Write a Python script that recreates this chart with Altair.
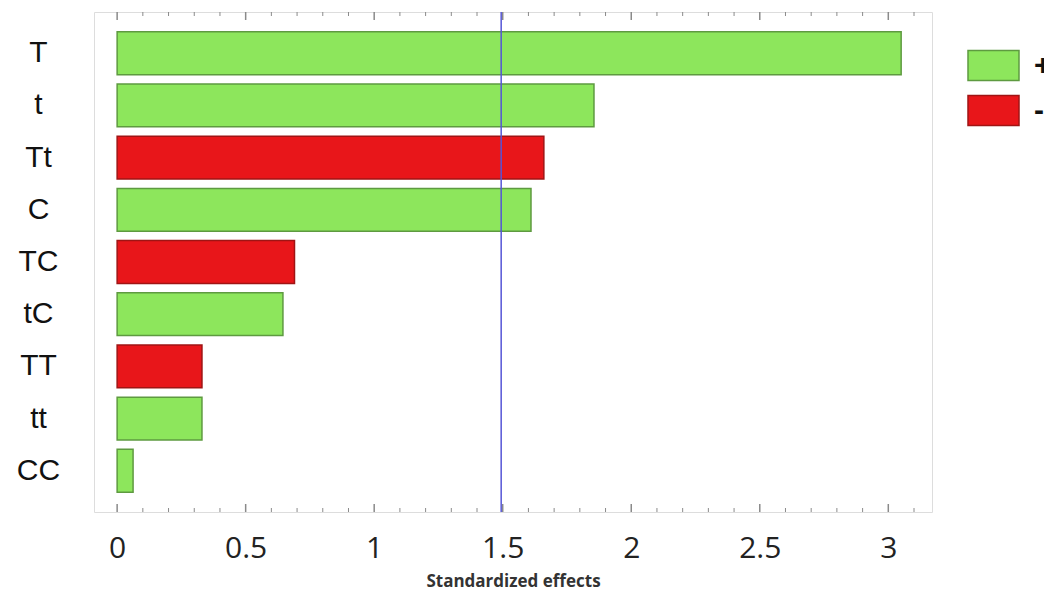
import altair as alt
import pandas as pd

factors = ["T", "t", "Tt", "C", "TC", "tC", "TT", "tt", "CC"]
effects = [3.05, 1.855, 1.66, 1.61, 0.69, 0.645, 0.33, 0.33, 0.062]
signs = ["+", "+", "-", "+", "-", "+", "-", "+", "+"]
critical_value = [1.494]
major_ticks = [0, 0.5, 1, 1.5, 2, 2.5, 3]
minor_ticks = [0.1, 0.2, 0.3, 0.4, 0.6, 0.7, 0.8, 0.9, 1.1, 1.2, 1.3, 1.4,
               1.6, 1.7, 1.8, 1.9, 2.1, 2.2, 2.3, 2.4, 2.6, 2.7, 2.8, 2.9, 3.1]

df = pd.DataFrame({"factor": factors, "effect": effects, "sign": signs})
crit = pd.DataFrame({"v": critical_value})
majors = pd.DataFrame({"v": major_ticks})
minors = pd.DataFrame({"v": minor_ticks})

W, H = 838, 500
xscale = alt.Scale(domain=[-0.09, 3.17], nice=False, zero=False)

legend_kw = dict(orient="none", legendX=873, legendY=27, padding=0,
                 symbolType="M-1,-0.59H1V0.59H-1Z", symbolSize=2601,
                 symbolStrokeWidth=1.5, symbolOpacity=1,
                 labelFontSize=30, labelFont="Liberation Sans",
                 labelFontWeight="bold", labelColor="#111",
                 labelOffset=14, rowPadding=-5)

bars = alt.Chart(df).mark_bar(strokeWidth=1.5).encode(
    y=alt.Y("factor:N", sort=factors, title=None,
            scale=alt.Scale(paddingInner=0.18, paddingOuter=0.38),
            axis=alt.Axis(labelFontSize=30, labelColor="#111", labelFont="Liberation Sans",
                          labelAlign="center", labelPadding=56, ticks=False, domain=False)),
    x=alt.X("effect:Q", scale=xscale, title="Standardized effects",
            axis=alt.Axis(values=major_ticks, format="~g", labelFontSize=30, labelColor="#222",
                          labelFont="Open Sans", labelPadding=21, ticks=False, domain=False,
                          grid=False, titleFontSize=17, titleFont="Open Sans",
                          titleFontWeight="bold", titleColor="#333", titlePadding=10)),
    color=alt.Color("sign:N", title=None,
                    scale=alt.Scale(domain=["+", "-"], range=["#8de65c", "#e8161a"]),
                    legend=alt.Legend(**legend_kw)),
    stroke=alt.Stroke("sign:N", title=None,
                      scale=alt.Scale(domain=["+", "-"], range=["#5e9a40", "#a01414"]),
                      legend=alt.Legend(**legend_kw)),
)

line = alt.Chart(crit).mark_rule(color="#5555d6", strokeWidth=1.5).encode(
    x=alt.X("v:Q", scale=xscale), y=alt.value(0), y2=alt.value(H)
)

tick_color = "#8a8a8a"
maj_bot = alt.Chart(majors).mark_rule(color=tick_color, strokeWidth=1.5).encode(
    x=alt.X("v:Q", scale=xscale), y=alt.value(H - 8), y2=alt.value(H))
min_bot = alt.Chart(minors).mark_rule(color=tick_color, strokeWidth=1).encode(
    x=alt.X("v:Q", scale=xscale), y=alt.value(H - 4), y2=alt.value(H))
maj_top = alt.Chart(majors).mark_rule(color=tick_color, strokeWidth=1.5).encode(
    x=alt.X("v:Q", scale=xscale), y=alt.value(0), y2=alt.value(8))
min_top = alt.Chart(minors).mark_rule(color=tick_color, strokeWidth=1).encode(
    x=alt.X("v:Q", scale=xscale), y=alt.value(0), y2=alt.value(4))

chart = alt.layer(bars, line, maj_bot, min_bot, maj_top, min_top).properties(
    width=W, height=H,
    autosize=alt.AutoSizeParams(type="none"),
    padding={"left": 86, "top": 4, "right": 112, "bottom": 82},
).configure_view(stroke="#8a8a8a", strokeWidth=1.5).configure(background="white")

chart.save("out.html", embed_options={"renderer": "svg", "actions": False})
